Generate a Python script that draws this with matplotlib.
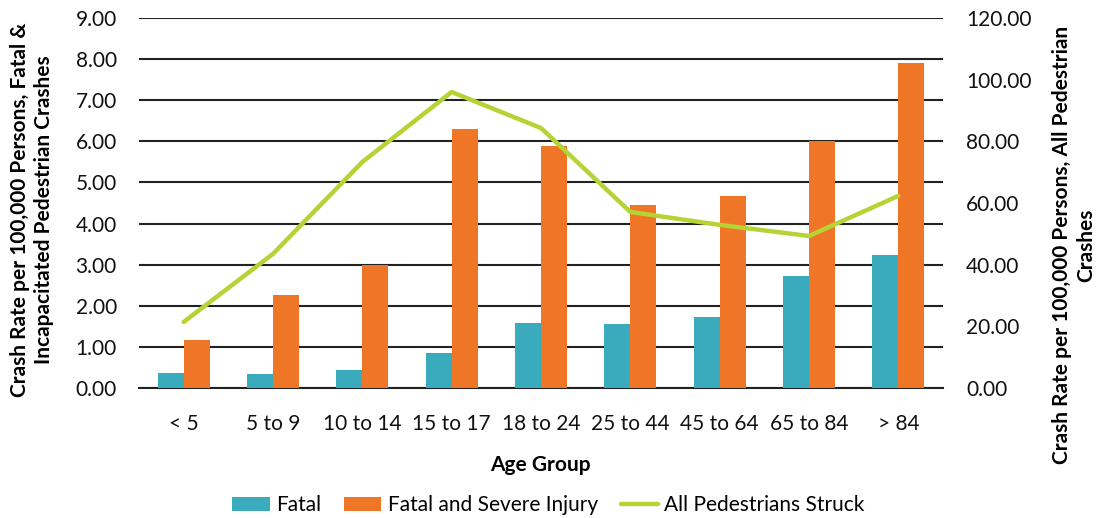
import numpy as np
import matplotlib.pyplot as plt

plt.rcParams['font.family'] = ['Lato', 'DejaVu Sans']

# data
age_groups = ['< 5', '5 to 9', '10 to 14', '15 to 17', '18 to 24',
              '25 to 44', '45 to 64', '65 to 84', '> 84']
fatal = [0.36, 0.34, 0.44, 0.85, 1.58, 1.56, 1.73, 2.72, 3.23]
fatal_severe = [1.17, 2.26, 3.00, 6.30, 5.89, 4.45, 4.67, 6.01, 7.91]
all_struck = [21.4, 43.5, 73.3, 96.0, 84.3, 57.1, 52.9, 49.3, 62.3]

teal = '#3AABBD'
orange = '#F07627'
green = '#B5D334'

fig = plt.figure(figsize=(10.97, 5.18), dpi=100)
ax = fig.add_axes([0.1267, 0.251, 0.7329, 0.7143])
ax2 = ax.twinx()

x = np.arange(len(age_groups))
w = 0.29
ax.bar(x - w / 2, fatal, w, color=teal, label='Fatal', zorder=3)
ax.bar(x + w / 2, fatal_severe, w, color=orange, label='Fatal and Severe Injury', zorder=3)
ax2.plot(x, all_struck, color=green, lw=3.2, label='All Pedestrians Struck',
         solid_capstyle='round')

ax.set_xlim(-0.5, len(age_groups) - 0.5)
ax.set_ylim(0, 9)
ax.set_yticks(np.arange(0, 9.01, 1))
ax.set_yticklabels([f'{v:.2f}' for v in np.arange(0, 9.01, 1)])
ax2.set_ylim(0, 120)
ax2.set_yticks(np.arange(0, 120.1, 20))
ax2.set_yticklabels([f'{v:.2f}' for v in np.arange(0, 120.1, 20)])

ax.yaxis.grid(True, color='#222222', lw=1.5, zorder=0)
ax.set_axisbelow(True)
for a in (ax, ax2):
    for s in a.spines.values():
        s.set_visible(False)
    a.tick_params(length=0, labelsize=15, labelcolor='#111111')
ax.spines['bottom'].set_visible(True)
ax.spines['bottom'].set_color('#222222')
ax.spines['bottom'].set_linewidth(1.5)

ax.set_xticks(x)
ax.set_xticklabels(age_groups)
ax.tick_params(axis='x', pad=19)
ax.tick_params(axis='y', pad=16)
ax2.tick_params(axis='y', pad=16.5)

fig.text(0.493, 0.1023, 'Age Group', fontsize=15, fontweight='bold',
         ha='center', va='center')
fig.text(0.0292, 0.5946,
         'Crash Rate per 100,000 Persons, Fatal &\nIncapacitated Pedestrian Crashes',
         fontsize=15, fontweight='bold', rotation=90, ha='center', va='center',
         multialignment='center', linespacing=1.3)
fig.text(0.979, 0.527,
         'Crash Rate per 100,000 Persons, All Pedestrian\nCrashes',
         fontsize=15, fontweight='bold', rotation=90, ha='center', va='center',
         multialignment='center', linespacing=1.3)

h1, l1 = ax.get_legend_handles_labels()
h2, l2 = ax2.get_legend_handles_labels()
fig.legend(h1 + h2, l1 + l2, loc='center', bbox_to_anchor=(0.5, 0.025), ncol=3,
           frameon=False, fontsize=15, handlelength=1.8, handleheight=0.65,
           columnspacing=1.1, handletextpad=0.3)

fig.savefig('out.png', dpi=100)
